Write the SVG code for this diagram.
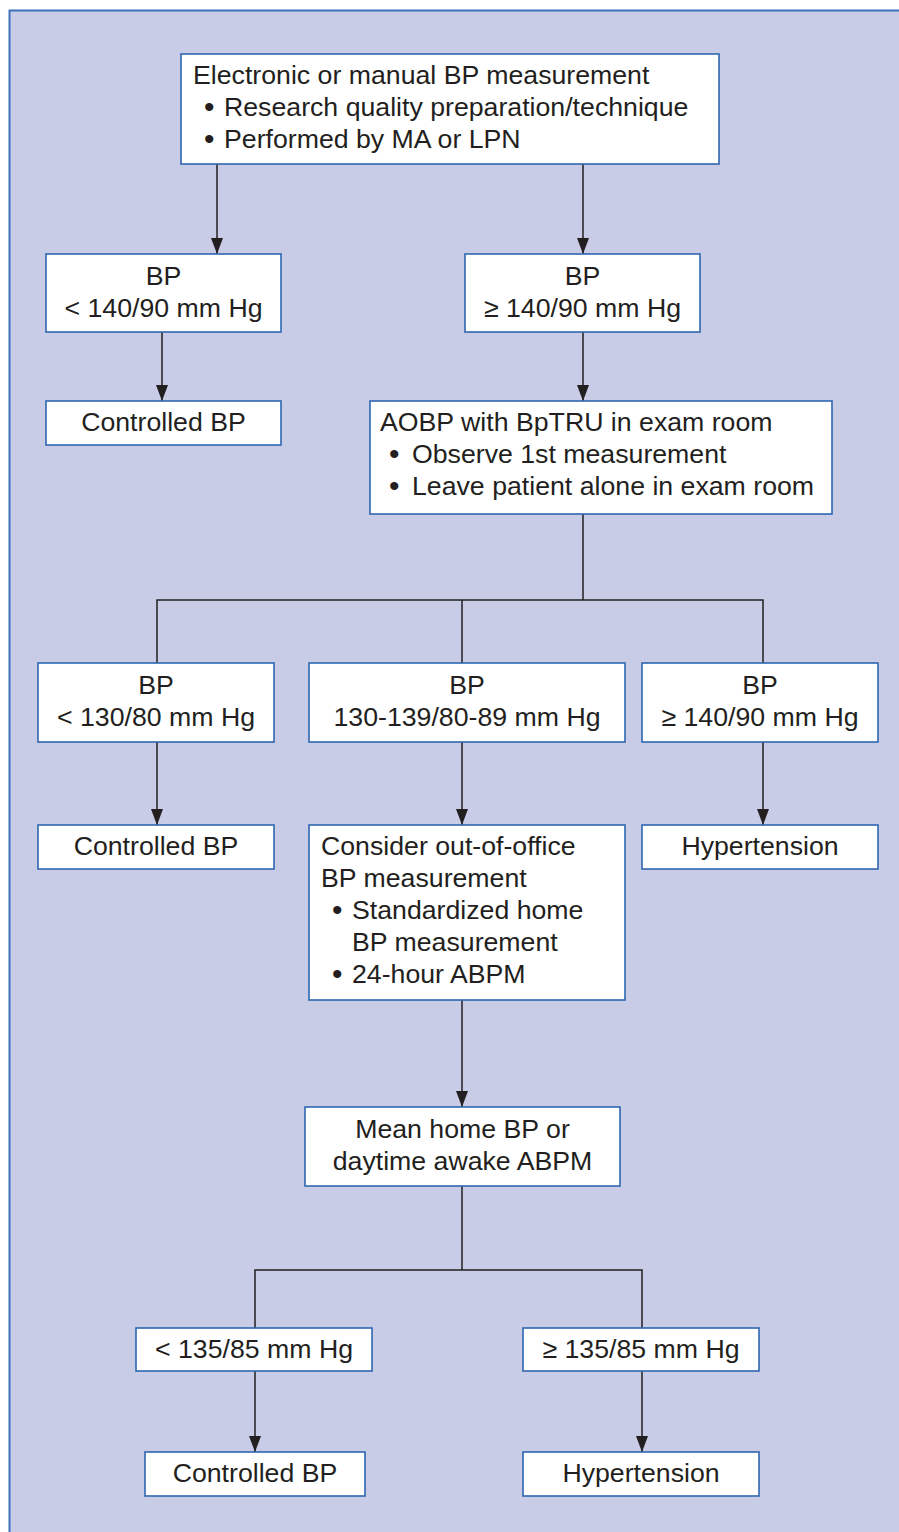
<svg xmlns="http://www.w3.org/2000/svg" width="899" height="1532" viewBox="0 0 899 1532">
<defs>
<marker id="arr" viewBox="0 0 16 12" markerWidth="16" markerHeight="12" refX="16" refY="6" orient="auto" markerUnits="userSpaceOnUse">
<path d="M0,0 L16,6 L0,12 Z" fill="#231f20"/>
</marker>
</defs>
<style>
.bg{fill:#c8cce6;stroke:#3d72ba;stroke-width:2}
.box{fill:#ffffff;stroke:#2f66b0;stroke-width:1.6}
.t{font-family:"Liberation Sans",Arial,sans-serif;font-size:26.7px;fill:#231f20}
.b{font-family:"Liberation Sans",Arial,sans-serif;font-size:30px;fill:#231f20}
.c{text-anchor:middle}
.ln{fill:none;stroke:#231f20;stroke-width:1.5}
.ar{fill:none;stroke:#231f20;stroke-width:1.5;marker-end:url(#arr)}
</style>
<rect width="899" height="1532" fill="#ffffff"/>
<rect class="bg" x="9.5" y="10.5" width="900" height="1530"/>

<g id="connectors">
<line class="ar" x1="217" y1="164" x2="217" y2="254"/>
<line class="ar" x1="583" y1="164" x2="583" y2="254"/>
<line class="ar" x1="162" y1="332" x2="162" y2="401"/>
<line class="ar" x1="583" y1="332" x2="583" y2="401"/>
<polyline class="ln" points="583,514 583,600"/>
<polyline class="ln" points="157,663 157,600 763,600 763,663"/>
<line class="ln" x1="462" y1="600" x2="462" y2="663"/>
<line class="ar" x1="157" y1="742" x2="157" y2="825"/>
<line class="ar" x1="462" y1="742" x2="462" y2="825"/>
<line class="ar" x1="763" y1="742" x2="763" y2="825"/>
<line class="ar" x1="462" y1="1000" x2="462" y2="1107"/>
<line class="ln" x1="462" y1="1186" x2="462" y2="1270"/>
<polyline class="ln" points="255,1328 255,1270 642,1270 642,1328"/>
<line class="ar" x1="255" y1="1371" x2="255" y2="1452"/>
<line class="ar" x1="642" y1="1371" x2="642" y2="1452"/>
</g>

<g id="n-start">
<rect class="box" x="181" y="54" width="538" height="110"/>
<text class="t" x="193" y="84">Electronic or manual BP measurement</text>
<text class="b" x="204" y="117">•</text>
<text class="t" x="224" y="116">Research quality preparation/technique</text>
<text class="b" x="204" y="149">•</text>
<text class="t" x="224" y="148">Performed by MA or LPN</text>
</g>

<g id="n-bp-lt140">
<rect class="box" x="46" y="254" width="235" height="78"/>
<text class="t c" x="163.5" y="285">BP</text>
<text class="t c" x="163.5" y="317">&lt; 140/90 mm Hg</text>
</g>

<g id="n-bp-ge140">
<rect class="box" x="465" y="254" width="235" height="78"/>
<text class="t c" x="582.5" y="285">BP</text>
<text class="t c" x="582.5" y="317">≥ 140/90 mm Hg</text>
</g>

<g id="n-controlled-1">
<rect class="box" x="46" y="401" width="235" height="44"/>
<text class="t c" x="163.5" y="431">Controlled BP</text>
</g>

<g id="n-aobp">
<rect class="box" x="370" y="401" width="462" height="113"/>
<text class="t" x="380" y="431">AOBP with BpTRU in exam room</text>
<text class="b" x="389" y="464">•</text>
<text class="t" x="412" y="463">Observe 1st measurement</text>
<text class="b" x="389" y="496">•</text>
<text class="t" x="412" y="495">Leave patient alone in exam room</text>
</g>

<g id="n-bp-lt130">
<rect class="box" x="38" y="663" width="236" height="79"/>
<text class="t c" x="156" y="694">BP</text>
<text class="t c" x="156" y="726">&lt; 130/80 mm Hg</text>
</g>

<g id="n-bp-130-139">
<rect class="box" x="309" y="663" width="316" height="79"/>
<text class="t c" x="467" y="694">BP</text>
<text class="t c" x="467" y="726">130-139/80-89 mm Hg</text>
</g>

<g id="n-bp-ge140b">
<rect class="box" x="642" y="663" width="236" height="79"/>
<text class="t c" x="760" y="694">BP</text>
<text class="t c" x="760" y="726">≥ 140/90 mm Hg</text>
</g>

<g id="n-controlled-2">
<rect class="box" x="38" y="825" width="236" height="44"/>
<text class="t c" x="156" y="855">Controlled BP</text>
</g>

<g id="n-consider">
<rect class="box" x="309" y="825" width="316" height="175"/>
<text class="t" x="321" y="855">Consider out-of-office</text>
<text class="t" x="321" y="887">BP measurement</text>
<text class="b" x="332" y="920">•</text>
<text class="t" x="352" y="919">Standardized home</text>
<text class="t" x="352" y="951">BP measurement</text>
<text class="b" x="332" y="984">•</text>
<text class="t" x="352" y="983">24-hour ABPM</text>
</g>

<g id="n-hypertension-1">
<rect class="box" x="642" y="825" width="236" height="44"/>
<text class="t c" x="760" y="855">Hypertension</text>
</g>

<g id="n-mean">
<rect class="box" x="305" y="1107" width="315" height="79"/>
<text class="t c" x="462.5" y="1138">Mean home BP or</text>
<text class="t c" x="462.5" y="1170">daytime awake ABPM</text>
</g>

<g id="n-lt135">
<rect class="box" x="136" y="1328" width="236" height="43"/>
<text class="t c" x="254" y="1358">&lt; 135/85 mm Hg</text>
</g>

<g id="n-ge135">
<rect class="box" x="523" y="1328" width="236" height="43"/>
<text class="t c" x="641" y="1358">≥ 135/85 mm Hg</text>
</g>

<g id="n-controlled-3">
<rect class="box" x="145" y="1452" width="220" height="44"/>
<text class="t c" x="255" y="1482">Controlled BP</text>
</g>

<g id="n-hypertension-2">
<rect class="box" x="523" y="1452" width="236" height="44"/>
<text class="t c" x="641" y="1482">Hypertension</text>
</g>
</svg>
